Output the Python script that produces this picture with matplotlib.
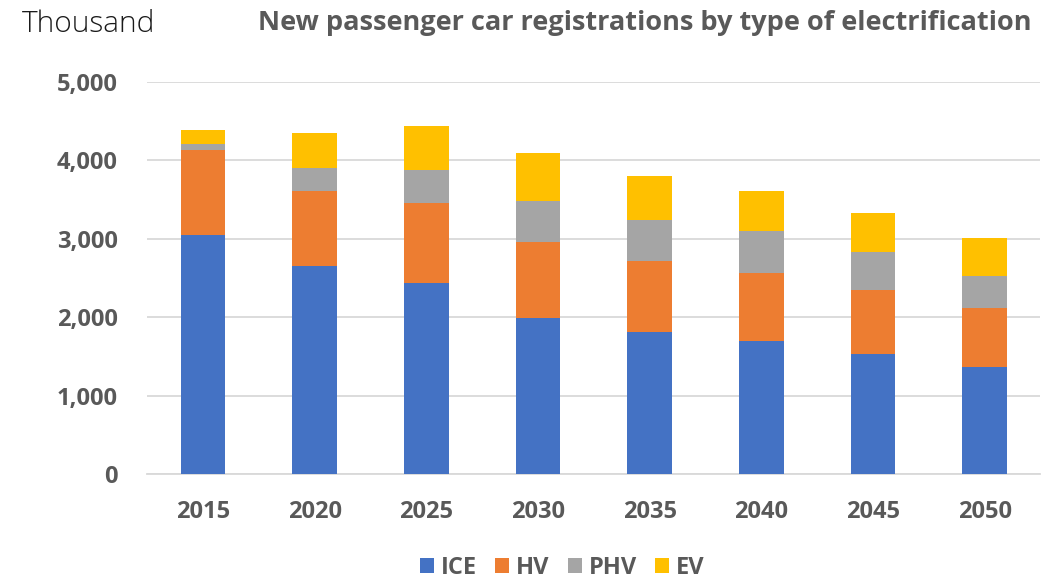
import matplotlib
matplotlib.use("Agg")
import matplotlib.pyplot as plt
import numpy as np
from matplotlib.patches import Patch

# Registrations of new passenger cars, thousand units
years = ["2015", "2020", "2025", "2030", "2035", "2040", "2045", "2050"]
ice = [3050, 2650, 2440, 1985, 1810, 1700, 1535, 1365]
hv = [1080, 960, 1020, 980, 910, 865, 810, 750]
phv = [75, 295, 420, 515, 525, 535, 485, 415]
ev = [180, 440, 560, 610, 555, 510, 495, 480]

series = [("ICE", ice, "#4472C4"), ("HV", hv, "#ED7D31"),
          ("PHV", phv, "#A5A5A5"), ("EV", ev, "#FFC000")]

yticks = [0, 1000, 2000, 3000, 4000, 5000]

plt.rcParams["font.family"] = ["Open Sans", "DejaVu Sans"]
text_gray = "#595959"

fig = plt.figure(figsize=(10.51, 5.78), dpi=100)
ax = fig.add_axes([0.14, 0.18, 0.85, 0.678])

x = np.arange(len(years))
bottom = np.zeros(len(years))
for name, vals, color in series:
    ax.bar(x, vals, width=0.4, bottom=bottom, color=color, label=name, zorder=3)
    bottom += np.array(vals)

ax.set_xlim(-0.5, len(years) - 0.5)
ax.set_ylim(0, 5000)
ax.set_yticks(yticks)
ax.set_yticklabels([f"{v:,}" for v in yticks])
ax.set_xticks(x)
ax.set_xticklabels(years)
ax.grid(axis="y", color="#D9D9D9", linewidth=1.3, zorder=0)
for s in ["top", "right", "left"]:
    ax.spines[s].set_visible(False)
ax.spines["bottom"].set_color("#D9D9D9")
ax.spines["bottom"].set_linewidth(1.3)
ax.tick_params(axis="both", length=0, labelcolor=text_gray, labelsize=17)
ax.tick_params(axis="y", pad=21)
ax.tick_params(axis="x", pad=19)
for lab in ax.get_xticklabels() + ax.get_yticklabels():
    lab.set_fontweight("bold")

fig.text(0.021, 0.958, "Thousand", fontsize=21.5, fontweight="light",
         color="#1a1a1a", ha="left", va="center")
fig.text(0.981, 0.96, "New passenger car registrations by type of electrification",
         fontsize=19.5, fontweight="bold", color=text_gray, ha="right", va="center")

handles = [Patch(facecolor=c, label=n) for n, _, c in series]
leg = fig.legend(handles=handles, loc="center", bbox_to_anchor=(0.535, 0.018),
                 ncol=4, frameon=False, fontsize=17, handlelength=0.6,
                 handleheight=0.6, handletextpad=0.3, columnspacing=0.75)
for t in leg.get_texts():
    t.set_color(text_gray)
    t.set_fontweight("bold")

fig.savefig("out.png", dpi=100, facecolor="white")
